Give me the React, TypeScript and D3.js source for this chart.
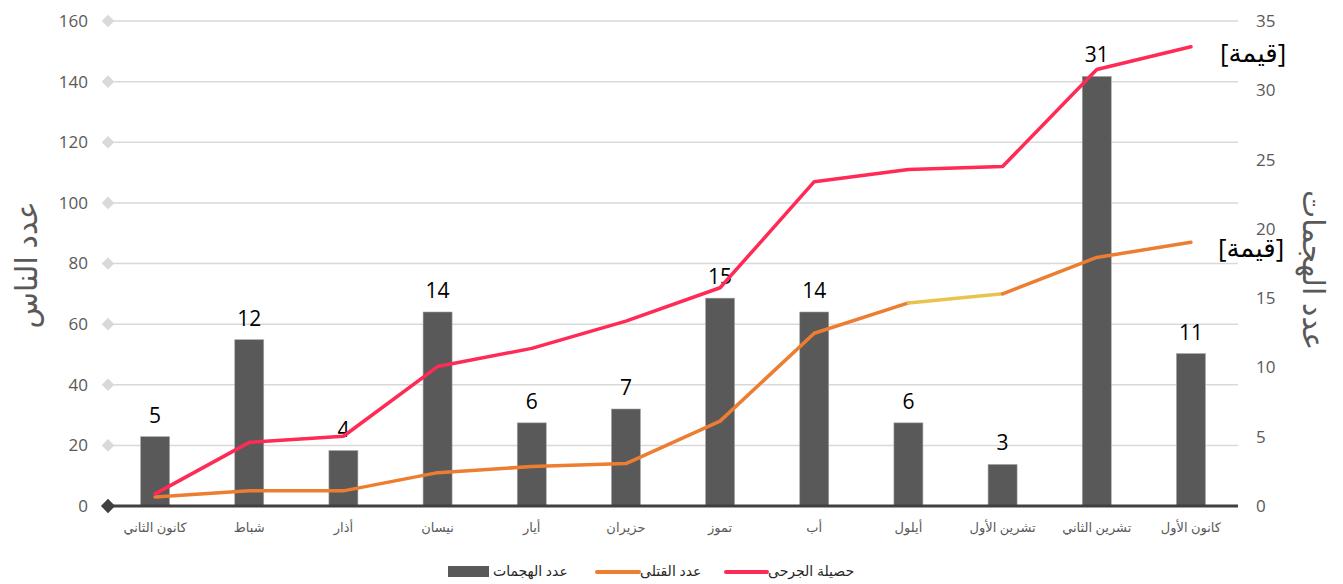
import React, { useEffect, useRef } from 'react';
import * as d3 from 'd3';

const months = ['كانون الثاني', 'شباط', 'أذار', 'نيسان', 'أيار', 'حزيران', 'تموز', 'أب', 'أيلول', 'تشرين الأول', 'تشرين الثاني', 'كانون الأول'];
const attacks = [5, 12, 4, 14, 6, 7, 15, 14, 6, 3, 31, 11];
const killed = [3, 5, 5, 11, 13, 14, 28, 57, 67, 70, 82, 87];
const injured = [4, 21, 23, 46, 52, 61, 72, 107, 111, 112, 144, 151.5];
const leftTicks = [0, 20, 40, 60, 80, 100, 120, 140, 160];
const rightTicks = [0, 5, 10, 15, 20, 25, 30, 35];

const W = 1343;
const H = 584;
const FONT = "'Segoe UI', 'Open Sans', 'DejaVu Sans', sans-serif";

export default function App() {
  const ref = useRef<SVGSVGElement>(null);

  useEffect(() => {
    const svg = d3.select(ref.current);
    svg.selectAll('*').remove();

    const x0 = 108, x1 = 1238, yTop = 21, yBot = 506;

    const x = d3.scaleBand().domain(months).range([x0, x1]);
    const yL = d3.scaleLinear().domain([0, 160]).range([yBot, yTop]);
    const yR = d3.scaleLinear().domain([0, 35]).range([yBot, yTop]);
    const cx = (m: string) => (x(m) as number) + x.bandwidth() / 2;

    // gridlines with diamond markers
    const grid = svg.append('g');
    grid.selectAll('line')
      .data(leftTicks.filter(t => t > 0))
      .enter()
      .append('line')
      .attr('x1', x0)
      .attr('x2', x1)
      .attr('y1', d => yL(d))
      .attr('y2', d => yL(d))
      .attr('stroke', '#d9d9d9')
      .attr('stroke-width', 1.5);
    grid.selectAll('path')
      .data(leftTicks.filter(t => t > 0))
      .enter()
      .append('path')
      .attr('d', d3.symbol(d3.symbolDiamond2, 100)())
      .attr('transform', d => `translate(${x0},${yL(d)})`)
      .attr('fill', '#d9d9d9');

    // left tick labels
    svg.append('g').selectAll('text')
      .data(leftTicks)
      .enter()
      .append('text')
      .attr('x', 88)
      .attr('y', d => yL(d))
      .attr('dy', '0.35em')
      .attr('text-anchor', 'end')
      .attr('font-family', FONT)
      .attr('font-size', 17)
      .attr('fill', '#595959')
      .text(d => d);

    // right tick labels
    svg.append('g').selectAll('text')
      .data(rightTicks)
      .enter()
      .append('text')
      .attr('x', 1256)
      .attr('y', d => yR(d))
      .attr('dy', '0.35em')
      .attr('text-anchor', 'start')
      .attr('font-family', FONT)
      .attr('font-size', 17)
      .attr('fill', '#595959')
      .text(d => d);

    // bars
    const bw = 29;
    svg.append('g').selectAll('rect')
      .data(attacks)
      .enter()
      .append('rect')
      .attr('x', (d, i) => cx(months[i]) - bw / 2)
      .attr('y', d => yR(d))
      .attr('width', bw)
      .attr('height', d => yBot - yR(d))
      .attr('fill', '#595959')
      .attr('stroke', '#a6a6a6')
      .attr('stroke-width', 0.6);

    // bar labels
    svg.append('g').selectAll('text')
      .data(attacks)
      .enter()
      .append('text')
      .attr('x', (d, i) => cx(months[i]))
      .attr('y', d => yR(d) - 14)
      .attr('text-anchor', 'middle')
      .attr('font-family', FONT)
      .attr('font-size', 21)
      .attr('fill', '#000')
      .text(d => d);

    // zero axis line
    svg.append('line')
      .attr('x1', x0)
      .attr('x2', x1)
      .attr('y1', yBot)
      .attr('y2', yBot)
      .attr('stroke', '#404040')
      .attr('stroke-width', 3);
    svg.append('path')
      .attr('d', d3.symbol(d3.symbolDiamond2, 130)())
      .attr('transform', `translate(${x0},${yBot})`)
      .attr('fill', '#404040');

    // x labels
    svg.append('g').selectAll('text')
      .data(months)
      .enter()
      .append('text')
      .attr('x', d => cx(d))
      .attr('y', 532)
      .attr('text-anchor', 'middle')
      .attr('font-family', FONT)
      .attr('font-size', 13)
      .attr('fill', '#595959')
      .text(d => d);

    // lines
    const line = d3.line<number>()
      .x((d, i) => cx(months[i]))
      .y(d => yL(d));

    const killedPts = killed.map((d, i) => [cx(months[i]), yL(d)] as [number, number]);
    const seg = d3.line();
    svg.append('path')
      .attr('d', seg(killedPts.slice(0, 9)) as string)
      .attr('fill', 'none')
      .attr('stroke', '#ED7D31')
      .attr('stroke-width', 3.5)
      .attr('stroke-linejoin', 'round')
      .attr('stroke-linecap', 'round');
    svg.append('path')
      .attr('d', seg(killedPts.slice(8, 10)) as string)
      .attr('fill', 'none')
      .attr('stroke', '#E8C350')
      .attr('stroke-width', 3.5)
      .attr('stroke-linecap', 'round');
    svg.append('path')
      .attr('d', seg(killedPts.slice(9)) as string)
      .attr('fill', 'none')
      .attr('stroke', '#ED7D31')
      .attr('stroke-width', 3.5)
      .attr('stroke-linejoin', 'round')
      .attr('stroke-linecap', 'round');

    svg.append('path')
      .attr('d', line(injured) as string)
      .attr('fill', 'none')
      .attr('stroke', '#FF2A55')
      .attr('stroke-width', 3.5)
      .attr('stroke-linejoin', 'round')
      .attr('stroke-linecap', 'round');

    // end labels
    const last = months.length - 1;
    [injured[last], killed[last]].forEach((v, k) => {
      svg.append('text')
        .attr('x', cx(months[last]) + (k === 0 ? 29 : 27))
        .attr('y', yL(v) + 6)
        .attr('dy', '0.35em')
        .attr('text-anchor', 'start')
        .attr('font-family', FONT)
        .attr('font-size', 26)
        .attr('fill', '#000')
        .text('[قيمة]');
    });

    // axis titles
    svg.append('text')
      .attr('transform', 'translate(26,265) rotate(-90)')
      .attr('text-anchor', 'middle')
      .attr('dy', '0.35em')
      .attr('font-family', FONT)
      .attr('font-size', 30)
      .attr('fill', '#595959')
      .text('عدد الناس');
    svg.append('text')
      .attr('transform', 'translate(1313,270) rotate(90)')
      .attr('text-anchor', 'middle')
      .attr('dy', '0.35em')
      .attr('font-family', FONT)
      .attr('font-size', 30)
      .attr('fill', '#595959')
      .text('عدد الهجمات');

    // legend
    const lg = svg.append('g').attr('font-family', FONT).attr('font-size', 14).attr('fill', '#262626');
    lg.append('rect').attr('x', 448).attr('y', 566).attr('width', 41).attr('height', 11).attr('fill', '#595959');
    lg.append('text').attr('x', 493).attr('y', 571).attr('dy', '0.35em').text('عدد الهجمات');
    lg.append('line').attr('x1', 597).attr('x2', 639).attr('y1', 572).attr('y2', 572)
      .attr('stroke', '#ED7D31').attr('stroke-width', 4).attr('stroke-linecap', 'round');
    lg.append('text').attr('x', 640).attr('y', 571).attr('dy', '0.35em').text('عدد القتلى');
    lg.append('line').attr('x1', 726).attr('x2', 767).attr('y1', 572).attr('y2', 572)
      .attr('stroke', '#FF2A55').attr('stroke-width', 4).attr('stroke-linecap', 'round');
    lg.append('text').attr('x', 768).attr('y', 571).attr('dy', '0.35em').text('حصيلة الجرحى');
  }, []);

  return (
    <svg
      ref={ref}
      width={W}
      height={H}
      style={{ position: 'absolute', left: 0, top: 0, background: '#fff' }}
    />
  );
}
